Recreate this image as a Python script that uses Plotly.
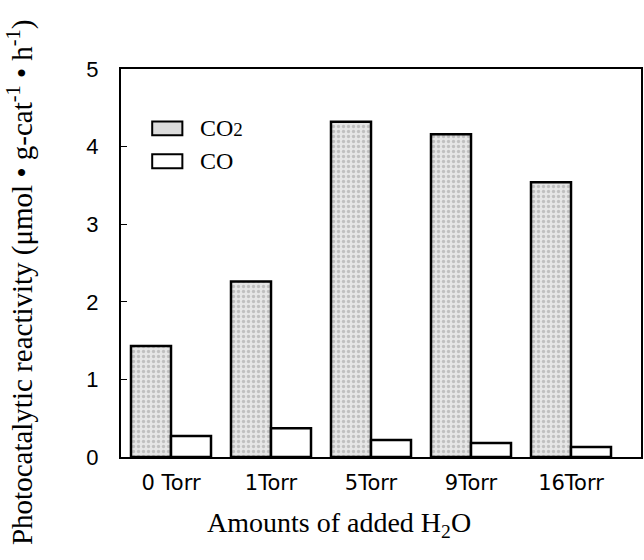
import plotly.graph_objects as go

categories = ["0 Torr", "1Torr", "5Torr", "9Torr", "16Torr"]
co2_values = [1.43, 2.26, 4.32, 4.16, 3.54]
co_values = [0.27, 0.37, 0.22, 0.18, 0.13]
y_ticks = [0, 1, 2, 3, 4, 5]

serif = "Liberation Serif, Times New Roman, serif"
sans = "Liberation Sans, Arial, sans-serif"
wide_sans = "DejaVu Sans, sans-serif"

fig = go.Figure()
fig.add_trace(go.Bar(
    x=categories, y=co2_values, name="CO2",
    marker=dict(color="#dcdcdc", line=dict(color="black", width=2.5),
                pattern=dict(shape=".", fgcolor="#9a9a9a", bgcolor="#e6e6e6", size=5, solidity=0.35)),
    showlegend=False,
))
fig.add_trace(go.Bar(
    x=categories, y=co_values, name="CO",
    marker=dict(color="white", line=dict(color="black", width=2.5)),
    showlegend=False,
))

# legend drawn manually
legend_items = [("CO<span style='font-size:19px'>2</span>", "#dcdcdc"), ("CO", "white")]
for i, (label, fill) in enumerate(legend_items):
    y0 = 0.847 - i * 0.085
    fig.add_shape(type="rect", xref="paper", yref="paper",
                  x0=0.06, x1=0.118, y0=y0 - 0.018, y1=y0 + 0.018,
                  line=dict(color="black", width=2), fillcolor=fill)
    fig.add_annotation(xref="paper", yref="paper", x=0.148, y=y0, text=label,
                       showarrow=False, xanchor="left", yanchor="middle",
                       font=dict(family=serif, size=24, color="black"))

fig.add_annotation(xref="paper", yref="paper", x=-0.193, y=0.45,
                   text="Photocatalytic reactivity (μmol • g-cat<sup>-1</sup> • h<sup>-1</sup>)",
                   textangle=-90, showarrow=False, xanchor="center", yanchor="middle",
                   font=dict(family=serif, size=29, color="black"))
fig.add_annotation(xref="paper", yref="paper", x=0.42, y=-0.175,
                   text="Amounts of added H<sub>2</sub>O",
                   showarrow=False, xanchor="center", yanchor="middle",
                   font=dict(family=serif, size=28, color="black"))

fig.update_layout(
    width=644, height=560,
    margin=dict(l=121, r=1, t=69, b=103),
    paper_bgcolor="white", plot_bgcolor="white",
    barmode="group", bargap=0.2, bargroupgap=0,
    xaxis=dict(type="category", range=[-0.5, 4.7], showline=True, linecolor="black", linewidth=2,
               mirror=True, ticks="", showgrid=False,
               tickfont=dict(family=wide_sans, size=21, color="black"), ticklabelstandoff=6),
    yaxis=dict(range=[0, 5], tickvals=y_ticks, showline=True, linecolor="black", linewidth=2,
               mirror=True, ticks="inside", ticklen=6, tickcolor="black", showgrid=False, zeroline=False,
               tickfont=dict(family=sans, size=22, color="black"), ticklabelstandoff=16),
)

fig.write_html("out.html")
